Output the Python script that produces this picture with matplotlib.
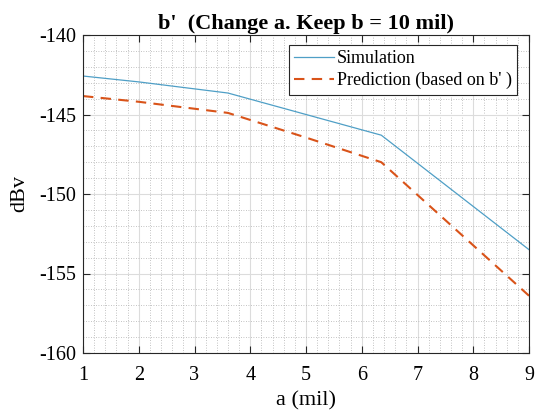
import matplotlib
matplotlib.use("Agg")
import matplotlib.pyplot as plt
from matplotlib.ticker import MultipleLocator

a_sim = [1, 2, 3.6, 5, 6.35, 9]
sim = [-142.58, -142.95, -143.65, -145.0, -146.3, -153.5]
a_pred = [1, 2, 3.6, 5, 6.35, 9]
pred = [-143.84, -144.2, -144.9, -146.45, -148.0, -156.4]

xticks = [1, 2, 3, 4, 5, 6, 7, 8, 9]
yticks = [-160, -155, -150, -145, -140]

plt.rcParams['font.family'] = ['Liberation Serif', 'DejaVu Serif']
plt.rcParams['axes.unicode_minus'] = False

W, H = 535, 412
fig = plt.figure(figsize=(W/100, H/100), dpi=100)
ax = fig.add_axes([83/W, 1-353/H, 446/W, 318/H])

ax.plot(a_sim, sim, color='#4f9fc6', lw=0.9, label='Simulation')
ax.plot(a_pred, pred, color='#D95319', lw=1.5, ls=(0, (5, 3.5)), label="Prediction (based on b' )")

ax.set_xlim(1, 9)
ax.set_ylim(-160, -140)
ax.set_xticks(xticks)
ax.set_yticks(yticks)
ax.xaxis.set_minor_locator(MultipleLocator(0.2))
ax.yaxis.set_minor_locator(MultipleLocator(1))
ax.grid(which='major', color='#dcdcdc', lw=0.8, ls='-')
ax.grid(which='minor', color='#b0b0b0', lw=0.6, ls=(0, (1, 2)))
ax.set_axisbelow(True)
ax.tick_params(which='both', direction='in', top=True, right=True, color='#262626')
ax.tick_params(which='major', length=5, labelsize=14.5, width=0.8, pad=5)
ax.tick_params(axis='x', which='major', pad=9)
ax.tick_params(which='minor', length=0)
for s in ax.spines.values():
    s.set_color('#262626')
    s.set_linewidth(0.8)

ax.set_xlabel('a (mil)', fontsize=16, labelpad=5)
ax.set_ylabel('dBv', fontsize=16, labelpad=7)
ax.set_title("b'  (Change a. Keep b = 10 mil)", fontsize=16, fontweight='bold', pad=4)

leg = ax.legend(loc='upper left', fontsize=13, fancybox=False, framealpha=1,
                edgecolor='#262626', borderpad=0.3, labelspacing=0.25,
                handlelength=2.2, handletextpad=0.15, borderaxespad=0,
                bbox_to_anchor=(289/W, 1-45/H), bbox_transform=fig.transFigure)
leg.get_frame().set_linewidth(0.8)

fig.savefig('out.png', dpi=100)
